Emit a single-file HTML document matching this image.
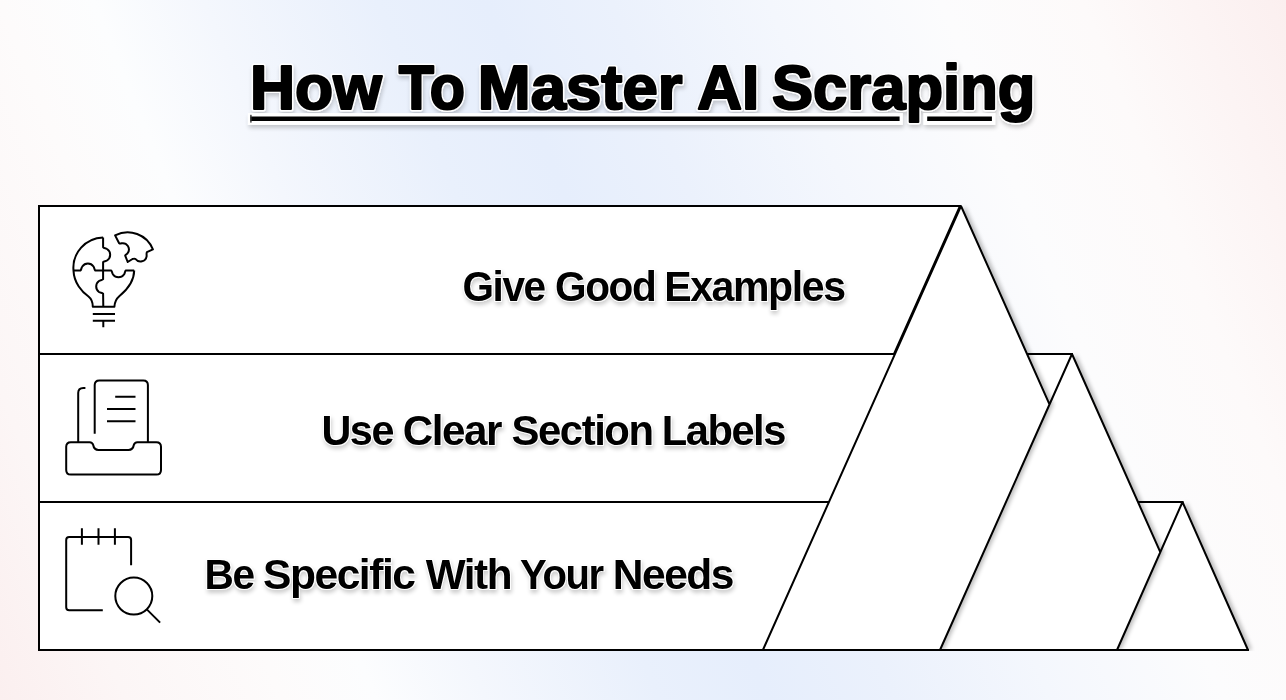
<!DOCTYPE html>
<html><head><meta charset="utf-8">
<style>
html,body{margin:0;padding:0;}
body{width:1286px;height:700px;overflow:hidden;position:relative;
 background:linear-gradient(68deg,#fbefef 0%,#fcf6f6 8%,#fdfbfb 18%,#fcfdfe 24%,#f4f7fd 31%,#e9f0fc 42%,#e6eefc 49%,#ebf1fc 57%,#f4f7fd 67%,#fcfcfd 78%,#fdfafa 87%,#fcf4f4 94%,#fbefef 100%);
 font-family:"Liberation Sans",sans-serif;}
svg{position:absolute;left:0;top:0;}
</style></head><body>
<svg width="1286" height="700" viewBox="0 0 1286 700">
<defs>
 <filter id="sh" filterUnits="userSpaceOnUse" x="0" y="0" width="1286" height="651">
  <feGaussianBlur in="SourceAlpha" stdDeviation="2.3"/>
  <feOffset dx="4" dy="0" result="b"/>
  <feComponentTransfer><feFuncA type="linear" slope="0.26"/></feComponentTransfer>
  <feMerge><feMergeNode/><feMergeNode in="SourceGraphic"/></feMerge>
 </filter>
 <filter id="tsh" x="-10%" y="-30%" width="120%" height="160%">
  <feGaussianBlur in="SourceAlpha" stdDeviation="2"/>
  <feOffset dx="1" dy="2.5" result="b"/>
  <feComponentTransfer><feFuncA type="linear" slope="0.2"/></feComponentTransfer>
  <feMerge><feMergeNode/><feMergeNode in="SourceGraphic"/></feMerge>
 </filter>
</defs>

<!-- rows -->
<g fill="#fff" stroke="#000" stroke-width="2">
 <polygon points="39,206 960,206 894,354 39,354"/>
 <rect x="39" y="354" width="1033" height="148"/>
 <rect x="39" y="502" width="1143.5" height="148"/>
</g>

<!-- triangles: fills with shadows (small, middle clipped, big clipped), then strokes -->
<g fill="#fff" stroke="none">
 <polygon filter="url(#sh)" points="1182.5,502 1248,650 1117,650"/>
 <polygon filter="url(#sh)" points="1072,354 1160.3,552.1 1117,650 940,650"/>
 <polygon filter="url(#sh)" points="961,206 1049.5,404.4 940,650 762.9,650"/>
</g>
<path fill="none" stroke="#000" stroke-width="2" stroke-linejoin="miter" stroke-miterlimit="1" d="M762.9,650 L961,206 L1049.5,404.4 M940,650 L1072,354 L1160.3,552.1 M1117,650 L1182.5,502 L1248,650 M762.9,650 L1249,650"/>

<!-- title -->
<g filter="url(#tsh)" font-family="Liberation Sans" font-weight="bold">
 <g fill="#fff">
  <rect x="247.9" y="113.1" width="654.9" height="11.8"/>
  <rect x="923.5" y="113.1" width="71.7" height="11.8"/>
 </g>
 <g fill="#000">
  <rect x="250.3" y="116.5" width="649.3" height="4.5"/>
  <rect x="927.2" y="116.5" width="64.7" height="4.5"/>
  <rect x="250.2" y="114.8" width="1.4" height="7.8" fill="#333"/>
 </g>
 <text transform="translate(250.00,108.60) scale(1.0000,1)" font-size="62.4" letter-spacing="0" fill="#fff" stroke="#fff" stroke-width="5.00" stroke-linejoin="round">How</text><text transform="translate(398.70,108.60) scale(0.9243,1)" font-size="62.4" letter-spacing="0" fill="#fff" stroke="#fff" stroke-width="5.00" stroke-linejoin="round">To</text><text transform="translate(477.75,108.60) scale(1.0177,1)" font-size="62.4" letter-spacing="0" fill="#fff" stroke="#fff" stroke-width="5.00" stroke-linejoin="round">Master</text><text transform="translate(697.21,108.60) scale(0.9931,1)" font-size="62.4" letter-spacing="0" fill="#fff" stroke="#fff" stroke-width="5.00" stroke-linejoin="round">AI</text><text transform="translate(772.01,108.60) scale(0.9863,1)" font-size="62.4" letter-spacing="0" fill="#fff" stroke="#fff" stroke-width="5.00" stroke-linejoin="round">Scraping</text>
 <text transform="translate(250.00,108.60) scale(1.0000,1)" font-size="62.4" letter-spacing="0" fill="#000" stroke="#000" stroke-width="2.20" stroke-linejoin="round">How</text><text transform="translate(398.70,108.60) scale(0.9243,1)" font-size="62.4" letter-spacing="0" fill="#000" stroke="#000" stroke-width="2.20" stroke-linejoin="round">To</text><text transform="translate(477.75,108.60) scale(1.0177,1)" font-size="62.4" letter-spacing="0" fill="#000" stroke="#000" stroke-width="2.20" stroke-linejoin="round">Master</text><text transform="translate(697.21,108.60) scale(0.9931,1)" font-size="62.4" letter-spacing="0" fill="#000" stroke="#000" stroke-width="2.20" stroke-linejoin="round">AI</text><text transform="translate(772.01,108.60) scale(0.9863,1)" font-size="62.4" letter-spacing="0" fill="#000" stroke="#000" stroke-width="2.20" stroke-linejoin="round">Scraping</text>
</g>

<!-- labels -->
<g filter="url(#tsh)" font-family="Liberation Sans" font-weight="bold">
 <text transform="translate(462.42,300.70) scale(0.9407,1)" font-size="43.1" letter-spacing="-1.5" fill="#fff" stroke="#fff" stroke-width="1.80" stroke-linejoin="round">Give</text><text transform="translate(555.02,300.70) scale(0.9417,1)" font-size="43.1" letter-spacing="-1.5" fill="#fff" stroke="#fff" stroke-width="1.80" stroke-linejoin="round">Good</text><text transform="translate(664.24,300.70) scale(0.9532,1)" font-size="43.1" letter-spacing="-1.5" fill="#fff" stroke="#fff" stroke-width="1.80" stroke-linejoin="round">Examples</text><text transform="translate(321.42,445.00) scale(0.9597,1)" font-size="43.1" letter-spacing="-1.5" fill="#fff" stroke="#fff" stroke-width="1.80" stroke-linejoin="round">Use</text><text transform="translate(402.64,445.00) scale(0.9798,1)" font-size="43.1" letter-spacing="-1.5" fill="#fff" stroke="#fff" stroke-width="1.80" stroke-linejoin="round">Clear</text><text transform="translate(511.53,445.00) scale(0.9720,1)" font-size="43.1" letter-spacing="-1.5" fill="#fff" stroke="#fff" stroke-width="1.80" stroke-linejoin="round">Section</text><text transform="translate(661.70,445.00) scale(0.9669,1)" font-size="43.1" letter-spacing="-1.5" fill="#fff" stroke="#fff" stroke-width="1.80" stroke-linejoin="round">Labels</text><text transform="translate(204.47,589.30) scale(0.9429,1)" font-size="43.1" letter-spacing="-1.5" fill="#fff" stroke="#fff" stroke-width="1.80" stroke-linejoin="round">Be</text><text transform="translate(263.01,589.30) scale(0.9882,1)" font-size="43.1" letter-spacing="-1.5" fill="#fff" stroke="#fff" stroke-width="1.80" stroke-linejoin="round">Specific</text><text transform="translate(425.70,589.30) scale(0.9814,1)" font-size="43.1" letter-spacing="-1.5" fill="#fff" stroke="#fff" stroke-width="1.80" stroke-linejoin="round">With</text><text transform="translate(520.07,589.30) scale(0.9292,1)" font-size="43.1" letter-spacing="-1.5" fill="#fff" stroke="#fff" stroke-width="1.80" stroke-linejoin="round">Your</text><text transform="translate(612.74,589.30) scale(0.9874,1)" font-size="43.1" letter-spacing="-1.5" fill="#fff" stroke="#fff" stroke-width="1.80" stroke-linejoin="round">Needs</text>
 <text transform="translate(462.42,300.70) scale(0.9407,1)" font-size="43.1" letter-spacing="-1.5" fill="#000" stroke="#000" stroke-width="0.00" stroke-linejoin="round">Give</text><text transform="translate(555.02,300.70) scale(0.9417,1)" font-size="43.1" letter-spacing="-1.5" fill="#000" stroke="#000" stroke-width="0.00" stroke-linejoin="round">Good</text><text transform="translate(664.24,300.70) scale(0.9532,1)" font-size="43.1" letter-spacing="-1.5" fill="#000" stroke="#000" stroke-width="0.00" stroke-linejoin="round">Examples</text><text transform="translate(321.42,445.00) scale(0.9597,1)" font-size="43.1" letter-spacing="-1.5" fill="#000" stroke="#000" stroke-width="0.00" stroke-linejoin="round">Use</text><text transform="translate(402.64,445.00) scale(0.9798,1)" font-size="43.1" letter-spacing="-1.5" fill="#000" stroke="#000" stroke-width="0.00" stroke-linejoin="round">Clear</text><text transform="translate(511.53,445.00) scale(0.9720,1)" font-size="43.1" letter-spacing="-1.5" fill="#000" stroke="#000" stroke-width="0.00" stroke-linejoin="round">Section</text><text transform="translate(661.70,445.00) scale(0.9669,1)" font-size="43.1" letter-spacing="-1.5" fill="#000" stroke="#000" stroke-width="0.00" stroke-linejoin="round">Labels</text><text transform="translate(204.47,589.30) scale(0.9429,1)" font-size="43.1" letter-spacing="-1.5" fill="#000" stroke="#000" stroke-width="0.00" stroke-linejoin="round">Be</text><text transform="translate(263.01,589.30) scale(0.9882,1)" font-size="43.1" letter-spacing="-1.5" fill="#000" stroke="#000" stroke-width="0.00" stroke-linejoin="round">Specific</text><text transform="translate(425.70,589.30) scale(0.9814,1)" font-size="43.1" letter-spacing="-1.5" fill="#000" stroke="#000" stroke-width="0.00" stroke-linejoin="round">With</text><text transform="translate(520.07,589.30) scale(0.9292,1)" font-size="43.1" letter-spacing="-1.5" fill="#000" stroke="#000" stroke-width="0.00" stroke-linejoin="round">Your</text><text transform="translate(612.74,589.30) scale(0.9874,1)" font-size="43.1" letter-spacing="-1.5" fill="#000" stroke="#000" stroke-width="0.00" stroke-linejoin="round">Needs</text>
</g>

<!-- icon 1: bulb puzzle -->
<g fill="none" stroke="#000" stroke-width="2" stroke-linejoin="round">
 <path d="M103.1,237.4 A30.5,30.5 0 0 0 73.5,270.6 C74,283 82,292 88.5,296.5 C92.3,299.5 92.8,303 92.8,306.8 L114.4,306.8 C114.6,302 116,299 119.5,296 C127,290 134,282 134.2,270.6"/>
 <path d="M103.1,237.4 L103.1,247.2 C104,248.5 105.5,248 107,249 A6.8,6.8 0 0 1 107,260.5 C105.5,261.5 104,261 103.1,262.2 L103.1,279.2 C102,280.5 100.5,280 99,281 A6.8,6.8 0 0 0 99,292 C100.5,293 102,292.5 103.1,293.6 L103.3,306.8"/>
 <path d="M73.5,270.6 L80.4,270.6 C81.5,269.5 81.2,268 82.3,266.5 A6.8,6.8 0 0 1 93.5,266.5 C94.5,268 94.2,269.5 95.3,270.6 L111.3,270.6 C112.3,271.7 112,273.2 113,274.5 A6.8,6.8 0 0 0 124,274.5 C125,273.2 124.7,271.7 125.6,270.6 L134.2,270.6"/>
 <path d="M92.8,313.9 L115,313.9 M92.8,320.8 L115,320.8 M103.3,320.8 L103.3,327.2"/>
 <path d="M115.1,235.4 A27.1,27.1 0 0 1 152.9,249.4 L146.9,252.2 C146.2,253.5 146.8,255 146.6,256.3 A6.2,6.2 0 0 1 135.5,259 C134.6,258.3 133.5,258.8 132.5,259 L127.7,262 L125.2,255.6 C125.8,254.5 127.2,254 127.7,253 A6.2,6.2 0 0 0 121.5,243.3 C120.5,243.7 119.6,243.6 119,243 Z"/>
</g>

<!-- icon 2: tray with documents -->
<g fill="none" stroke="#000" stroke-width="2" stroke-linejoin="round" stroke-linecap="butt">
 <path d="M78.2,442.2 L78.2,393 Q78.2,387.9 83.3,387.9 L85.4,387.9"/>
 <path d="M94.7,433.7 L94.7,385.1 Q94.7,380.5 99.3,380.5 L143.3,380.5 Q147.9,380.5 147.9,385.1 L147.9,442.2"/>
 <path d="M115.2,396.7 L135.5,396.7 M107,409 L135.5,409 M107,421.3 L135.5,421.3"/>
 <path d="M70.8,442.2 L89.6,442.2 Q92.4,442.2 93.2,445 Q94,449.9 98.5,449.9 L128.5,449.9 Q133,449.9 133.8,445 Q134.6,442.2 137.4,442.2 L156.4,442.2 Q161,442.2 161,446.8 L161,469.9 Q161,474.5 156.4,474.5 L70.8,474.5 Q66.2,474.5 66.2,469.9 L66.2,446.8 Q66.2,442.2 70.8,442.2 Z"/>
</g>

<!-- icon 3: calendar search -->
<g fill="none" stroke="#000" stroke-width="2" stroke-linejoin="round" stroke-linecap="butt">
 <path d="M102.8,610.3 L69.2,610.3 Q66.2,610.3 66.2,607.3 L66.2,539.9 Q66.2,536.9 69.2,536.9 L128.1,536.9 Q131.1,536.9 131.1,539.9 L131.1,565.2"/>
 <path d="M81.9,528.3 L81.9,544.8 M98.5,528.3 L98.5,544.8 M114.9,528.3 L114.9,544.8"/>
 <circle cx="133.8" cy="596.1" r="18.5"/>
 <path d="M146.8,609.4 L160.1,622.6"/>
</g>
</svg>
</body></html>
